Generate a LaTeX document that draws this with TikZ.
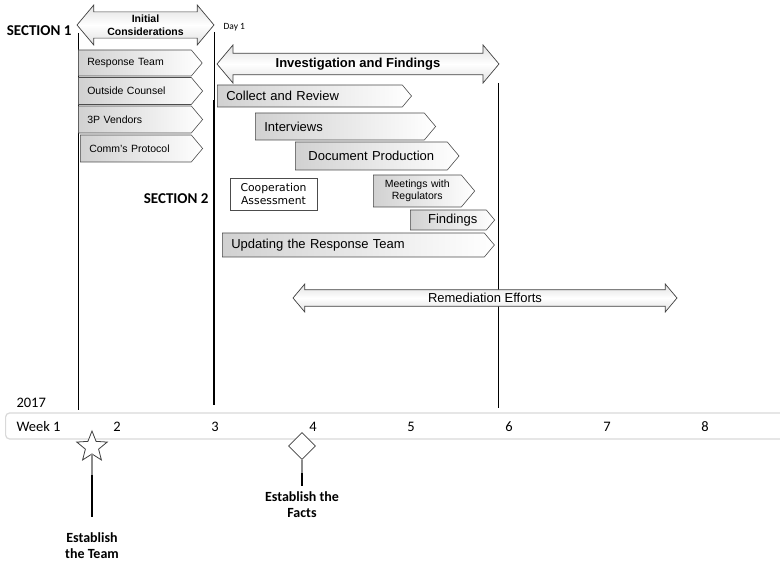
\documentclass[tikz,border=0pt]{standalone}
\usepackage{fontspec}
\setmainfont{Liberation Sans}
\newfontfamily\calibri{Carlito}
\newfontfamily\tahomalike{DejaVu Sans}
\usepackage{tikz}
\usetikzlibrary{shapes.symbols,shapes.arrows,shapes.geometric}

\begin{document}
\begin{tikzpicture}[
  x=1pt,y=-1pt,
  sig/.style={shape=signal,signal to=east,signal pointer angle=100,draw=black!70,line width=0.6pt,left color=black!18,right color=white,anchor=west,align=left,inner xsep=9pt,inner ysep=0pt},
  small/.style={font=\fontsize{10.5}{12}\selectfont},
  big/.style={font=\fontsize{13}{15}\selectfont},
  dbl/.style={shape=double arrow,double arrow tip angle=100,draw=black!75,line width=0.7pt,top color=black!12,bottom color=black!12,middle color=white,inner sep=0pt},
  cal/.style={font=\calibri\fontsize{14.5}{16}\selectfont},
  calb/.style={font=\calibri\bfseries\fontsize{14}{16}\selectfont,align=center},
  milestone/.style={draw=black!75,line width=0.8pt,fill=white,inner sep=0pt}]
  \useasboundingbox (0,0) rectangle (780,564);

  \coordinate (l1top) at (78,33);
  \coordinate (l1bot) at (78,410);
  \coordinate (l2top) at (214,32);
  \coordinate (l2mid) at (214,100);
  \coordinate (l2bot) at (214,405);
  \coordinate (l3top) at (498,83);
  \coordinate (l3bot) at (498,408);
  \draw[line width=0.7pt] (l1top) -- (l1bot);
  \draw[line width=0.7pt] (l2top) -- (l2mid);
  \draw[line width=1.6pt] (l2mid) -- (l2bot);
  \draw[line width=0.7pt] (l3top) -- (l3bot);

  \node[dbl,minimum height=137pt,minimum width=40pt,double arrow head extend=5.5pt,font=\bfseries\fontsize{10.5}{12.5}\selectfont,align=center] (init) at (145.5,25) {Initial\\Considerations};
  \node[dbl,minimum height=282pt,minimum width=38pt,double arrow head extend=5pt,font=\bfseries\fontsize{13}{15}\selectfont] (inv) at (358,64) {Investigation and Findings};
  \node[dbl,minimum height=384pt,minimum width=28pt,double arrow head extend=3.5pt,font=\fontsize{13}{15}\selectfont] (rem) at (485,298) {Remediation Efforts};

  \node[sig,small,text width=95pt,minimum height=26pt] (resp) at (78,63) {Response Team};
  \node[sig,small,text width=95pt,minimum height=27pt] (outc) at (78,91) {Outside Counsel};
  \node[sig,small,text width=95pt,minimum height=27pt] (vend) at (78,119.5) {3P Vendors};
  \node[sig,small,text width=93pt,minimum height=27pt] (comm) at (80,148.5) {Comm's Protocol};

  \node[sig,big,text width=167pt,minimum height=22pt] (coll) at (217,96) {Collect and Review};
  \node[sig,big,text width=151pt,minimum height=27pt] (intv) at (255,126.5) {Interviews};
  \node[sig,big,text width=134pt,minimum height=28pt,align=center] (docp) at (295,156) {Document Production};
  \node[sig,font=\fontsize{10.5}{11.5}\selectfont,text width=70pt,minimum height=32pt,align=center] (meet) at (373,191) {Meetings with\\Regulators};
  \node[sig,big,text width=58pt,minimum height=20pt,align=right] (find) at (410,220) {Findings};
  \node[sig,big,text width=244pt,minimum height=24pt] (updt) at (222,245) {Updating the Response Team};
  \node[draw=black!70,line width=0.6pt,font=\tahomalike\fontsize{10.8}{13}\selectfont,align=center,minimum width=87pt,minimum height=32pt,inner sep=0pt] (coop) at (273.5,194) {Cooperation\\Assessment};

  \node[calb,anchor=east,font=\calibri\bfseries\fontsize{15}{17}\selectfont] (sec1) at (75,31) {SECTION 1};
  \node[calb,anchor=east,font=\calibri\bfseries\fontsize{15}{17}\selectfont] (sec2) at (212,199) {SECTION 2};
  \node[font=\calibri\fontsize{9.5}{11}\selectfont,anchor=west] (day1) at (220,27) {Day 1};

  \node[draw=black!15,line width=1.2pt,rounded corners=4pt,minimum width=800pt,minimum height=26pt,anchor=west,inner sep=0pt] (bar) at (5,426) {};
  \node[cal,anchor=west] (year) at (13,403) {2017};
  \node[cal,anchor=west] (w1) at (13,427) {Week 1};
  \foreach \n in {2,...,8}
    \node[cal] (w\n) at ({117+98*(\n-2)},427) {\n};

  \node[milestone,star,star points=5,star point ratio=2.3,minimum size=32pt] (team) at (92,447) {};
  \node[milestone,diamond,minimum size=27pt] (facts) at (302,446) {};
  \coordinate (teamstem) at (92,475);
  \coordinate (teamend) at (92,517);
  \coordinate (factstem) at (302,473);
  \coordinate (factend) at (302,486);
  \draw[black!45,line width=1.2pt] (team.south) -- (teamstem);
  \draw[line width=1.6pt] (teamstem) -- (teamend);
  \draw[black!45,line width=1.2pt] (facts.south) -- (factstem);
  \draw[line width=1.6pt] (factstem) -- (factend);
  \node[calb] (teamlbl) at (92,546) {Establish\\the Team};
  \node[calb] (factlbl) at (302,505) {Establish the\\Facts};
\end{tikzpicture}
\end{document}
